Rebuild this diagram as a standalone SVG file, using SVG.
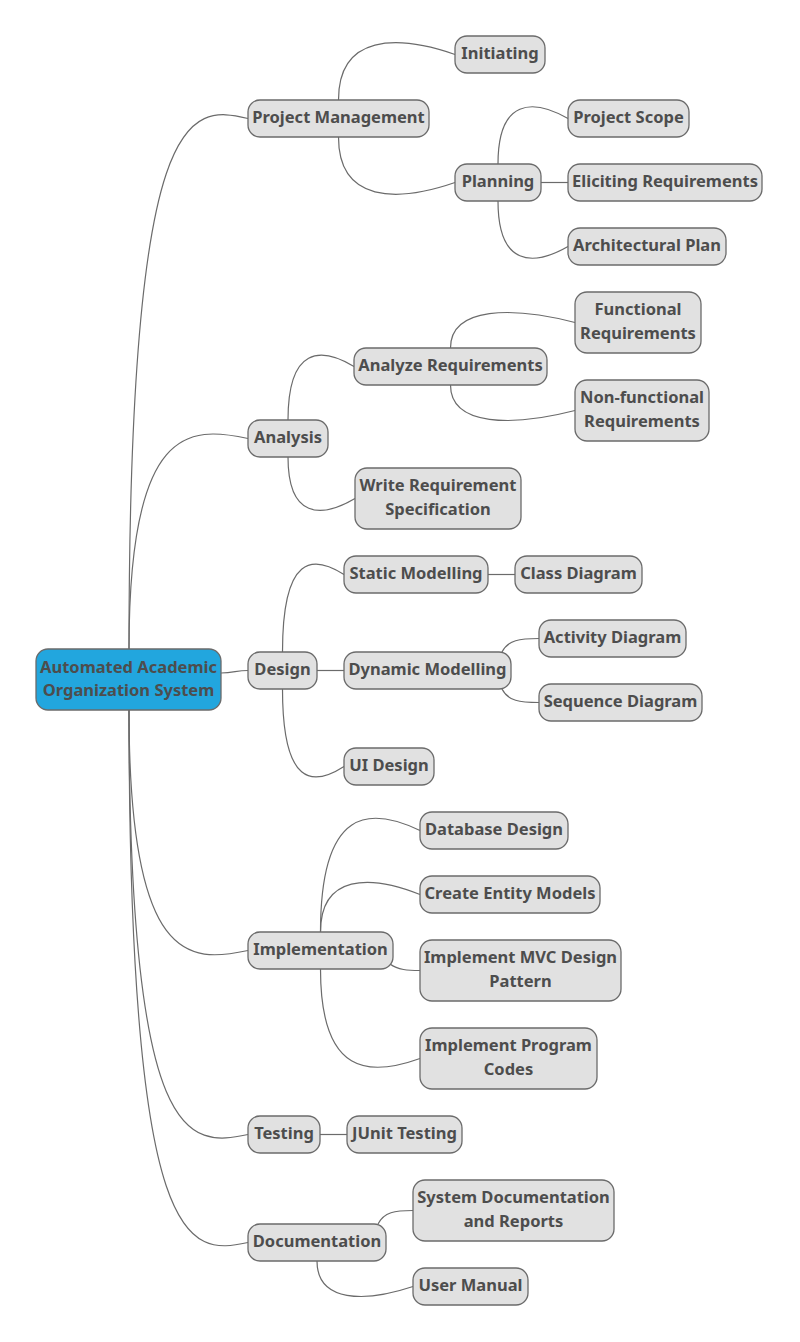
<svg xmlns="http://www.w3.org/2000/svg" width="800" height="1342" viewBox="0 0 800 1342">
<style>
.n rect{fill:#e1e1e1;stroke:#6b6b6b;stroke-width:1.3}
.r rect{fill:#22a6de;stroke:#6b6b6b;stroke-width:1.3}
text{font-family:"Noto Sans","Open Sans","Liberation Sans",sans-serif;font-weight:bold;font-size:16.5px;fill:#4d4d4d;text-anchor:middle}
.c path{fill:none;stroke:#6b6b6b;stroke-width:1.2}
</style>
<rect width="800" height="1342" fill="#ffffff"/>
<g class="c" id="connectors">
<path d="M129,649 C129,104 188.5,104 248,118.5"/>
<path d="M129,649 C129,425.5 188.5,425.5 248,438.5"/>
<path d="M221,673 C234,673 236,670.5 248,670.5"/>
<path d="M129,710 C129,963.5 188.5,963.5 248,950.5"/>
<path d="M129,710 C129,1147.5 188.5,1147.5 248,1134.5"/>
<path d="M129,710 C129,1255.5 188.5,1255.5 248,1242.5"/>
<path d="M338.5,100 C338.5,34.5 397,34.5 455,54.5"/>
<path d="M338.5,137 C338.5,202.5 397,202.5 455,182.5"/>
<path d="M498,164 C498,98.5 533,98.5 568,118.5"/>
<path d="M541,182.5 L568,182.5"/>
<path d="M498,201 C498,266.5 533,266.5 568,246.5"/>
<path d="M288,420 C288,346.5 321,346.5 354,366.5"/>
<path d="M288,457 C288,518.5 321,518.5 355,498.5"/>
<path d="M450.5,348 C450.5,306.5 512.75,306.5 575,322.5"/>
<path d="M450.5,385 C450.5,426.5 512.75,426.5 575,410.5"/>
<path d="M282.5,652 C282.5,554.5 313,554.5 344,574.5"/>
<path d="M317,670.5 L344,670.5"/>
<path d="M282.5,689 C282.5,786.5 313,786.5 344,766.5"/>
<path d="M488,574.5 L515,574.5"/>
<path d="M502,652 C508,640 520,638.5 539,638.5"/>
<path d="M502,689 C508,701 520,702.5 539,702.5"/>
<path d="M320.5,932 C320.5,806.5 370,806.5 420,830.5"/>
<path d="M320.5,932 C320.5,874.5 370,874.5 420,894.5"/>
<path d="M390,964 C398,970 408,970.5 420,970.5"/>
<path d="M320.5,969 C320.5,1076.5 370,1076.5 420,1058.5"/>
<path d="M320,1134.5 L347,1134.5"/>
<path d="M378,1224 C384,1212 395,1210.5 413,1210.5"/>
<path d="M317,1261 C317,1302.5 365,1302.5 413,1286.5"/>
</g>
<g class="r" id="root"><rect x="36" y="649" width="185" height="61" rx="12"/><text x="128.5" y="672.5">Automated Academic</text><text x="128.5" y="695.5">Organization System</text></g>
<g class="n" id="pm"><rect x="248" y="100" width="181" height="37" rx="12"/><text x="338.5" y="123">Project Management</text></g>
<g class="n" id="initiating"><rect x="455" y="36" width="90" height="37" rx="12"/><text x="500" y="59">Initiating</text></g>
<g class="n" id="planning"><rect x="455" y="164" width="86" height="37" rx="12"/><text x="498" y="187">Planning</text></g>
<g class="n" id="scope"><rect x="568" y="100" width="121" height="37" rx="12"/><text x="628.5" y="123">Project Scope</text></g>
<g class="n" id="eliciting"><rect x="568" y="164" width="194" height="37" rx="12"/><text x="665" y="187">Eliciting Requirements</text></g>
<g class="n" id="arch"><rect x="568" y="228" width="158" height="37" rx="12"/><text x="647" y="251">Architectural Plan</text></g>
<g class="n" id="analysis"><rect x="248" y="420" width="80" height="37" rx="12"/><text x="288" y="443">Analysis</text></g>
<g class="n" id="analyze"><rect x="354" y="348" width="193" height="37" rx="12"/><text x="450.5" y="371">Analyze Requirements</text></g>
<g class="n" id="functional"><rect x="575" y="292" width="126" height="61" rx="12"/><text x="638" y="315">Functional</text><text x="638" y="339">Requirements</text></g>
<g class="n" id="nonfunctional"><rect x="575" y="380" width="134" height="61" rx="12"/><text x="642" y="403">Non-functional</text><text x="642" y="427">Requirements</text></g>
<g class="n" id="writereq"><rect x="355" y="468" width="166" height="61" rx="12"/><text x="438" y="491">Write Requirement</text><text x="438" y="515">Specification</text></g>
<g class="n" id="design"><rect x="248" y="652" width="69" height="37" rx="12"/><text x="282.5" y="675">Design</text></g>
<g class="n" id="static"><rect x="344" y="556" width="144" height="37" rx="12"/><text x="416" y="579">Static Modelling</text></g>
<g class="n" id="class"><rect x="515" y="556" width="127" height="37" rx="12"/><text x="578.5" y="579">Class Diagram</text></g>
<g class="n" id="dynamic"><rect x="344" y="652" width="167" height="37" rx="12"/><text x="427.5" y="675">Dynamic Modelling</text></g>
<g class="n" id="activity"><rect x="539" y="620" width="147" height="37" rx="12"/><text x="612.5" y="643">Activity Diagram</text></g>
<g class="n" id="sequence"><rect x="539" y="684" width="163" height="37" rx="12"/><text x="620.5" y="707">Sequence Diagram</text></g>
<g class="n" id="uidesign"><rect x="344" y="748" width="90" height="37" rx="12"/><text x="389" y="771">UI Design</text></g>
<g class="n" id="implementation"><rect x="248" y="932" width="145" height="37" rx="12"/><text x="320.5" y="955">Implementation</text></g>
<g class="n" id="database"><rect x="420" y="812" width="148" height="37" rx="12"/><text x="494" y="835">Database Design</text></g>
<g class="n" id="entity"><rect x="420" y="876" width="180" height="37" rx="12"/><text x="510" y="899">Create Entity Models</text></g>
<g class="n" id="mvc"><rect x="420" y="940" width="201" height="61" rx="12"/><text x="520.5" y="963">Implement MVC Design</text><text x="520.5" y="987">Pattern</text></g>
<g class="n" id="program"><rect x="420" y="1028" width="177" height="61" rx="12"/><text x="508.5" y="1051">Implement Program</text><text x="508.5" y="1075">Codes</text></g>
<g class="n" id="testing"><rect x="248" y="1116" width="72" height="37" rx="12"/><text x="284" y="1139">Testing</text></g>
<g class="n" id="junit"><rect x="347" y="1116" width="115" height="37" rx="12"/><text x="404.5" y="1139">JUnit Testing</text></g>
<g class="n" id="documentation"><rect x="248" y="1224" width="138" height="37" rx="12"/><text x="317" y="1247">Documentation</text></g>
<g class="n" id="sysdoc"><rect x="413" y="1180" width="201" height="61" rx="12"/><text x="513.5" y="1203">System Documentation</text><text x="513.5" y="1227">and Reports</text></g>
<g class="n" id="usermanual"><rect x="413" y="1268" width="115" height="37" rx="12"/><text x="470.5" y="1291">User Manual</text></g>
</svg>
